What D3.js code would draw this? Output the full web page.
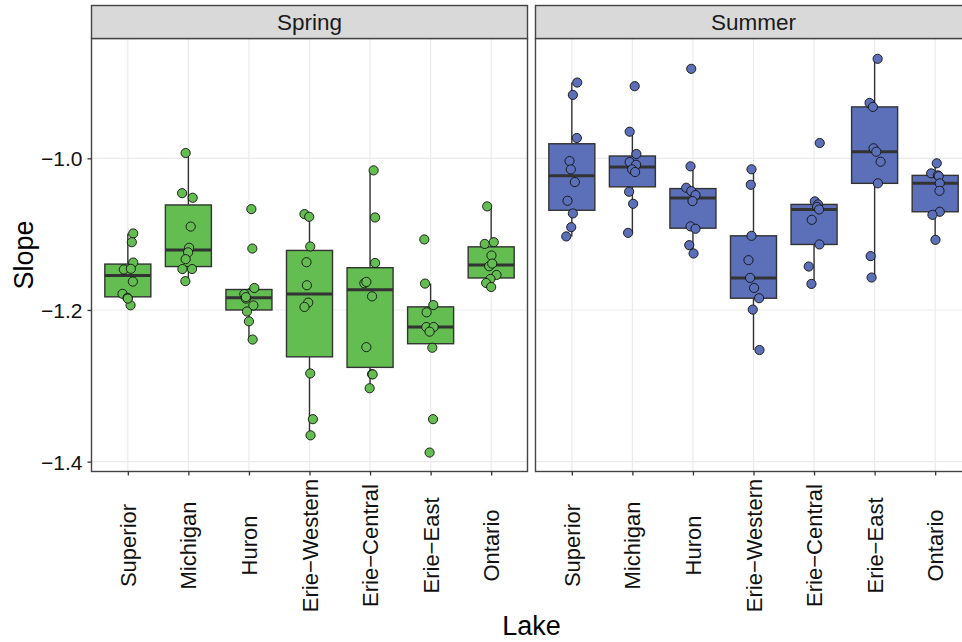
<!DOCTYPE html>
<html>
<head>
<meta charset="utf-8">
<script src="https://cdn.jsdelivr.net/npm/d3@7"></script>
<style>
  body { margin: 0; background: #fff; }
  text { font-family: 'Liberation Sans', Arial, Helvetica, sans-serif; }
</style>
</head>
<body>
<svg id="chart" width="962" height="642"></svg>
<script>
const lakes = ['Superior', 'Michigan', 'Huron', 'Erie\u2212Western', 'Erie\u2212Central', 'Erie\u2212East', 'Ontario']
const seasons = ['Spring', 'Summer']
const yTicks = [-1.4, -1.2, -1.0]

// slope values per lake
const springValues = [
  [-1.0991, -1.1106, -1.1374, -1.1466, -1.1457, -1.1625, -1.1787, -1.1840, -1.1938, -1.185],
  [-0.993, -1.046, -1.052, -1.090, -1.118, -1.124, -1.133, -1.146, -1.146, -1.162],
  [-1.067, -1.119, -1.171, -1.179, -1.185, -1.194, -1.202, -1.215, -1.239, -1.183],
  [-1.0736, -1.0771, -1.1163, -1.137, -1.1674, -1.1903, -1.196, -1.2837, -1.344, -1.3653],
  [-1.0159, -1.078, -1.138, -1.1648, -1.163, -1.182, -1.249, -1.2846, -1.285, -1.3032],
  [-1.107, -1.1652, -1.1935, -1.2031, -1.2225, -1.2225, -1.2286, -1.2498, -1.344, -1.388],
  [-1.0634, -1.1129, -1.1106, -1.1282, -1.1423, -1.1388, -1.1538, -1.1591, -1.1644, -1.1697]
]
const summerValues = [
  [-0.9001, -0.9164, -0.9732, -1.0036, -1.0146, -1.0313, -1.056, -1.0727, -1.0908, -1.103],
  [-0.9049, -0.9649, -0.9943, -1.0049, -1.0085, -1.0146, -1.0181, -1.0441, -1.06, -1.0983],
  [-0.882, -1.0106, -1.0388, -1.0432, -1.0485, -1.0564, -1.0898, -1.0929, -1.1145, -1.1255],
  [-1.0145, -1.0349, -1.1022, -1.1343, -1.1577, -1.1709, -1.1845, -1.1995, -1.2528],
  [-0.9798, -1.0568, -1.0608, -1.064, -1.0674, -1.0811, -1.1136, -1.1427, -1.1656],
  [-0.8688, -0.9269, -0.9322, -0.9868, -0.9913, -1.0045, -1.033, -1.129, -1.1572],
  [-1.0066, -1.0198, -1.0225, -1.0235, -1.033, -1.0428, -1.0705, -1.0745, -1.1075]
]

// horizontal jitter of each point, as a fraction of the category step
const springJitter = [
  [0.089, 0.066, 0.089, -0.066, 0.050, 0.083, -0.088, -0.005, 0.045, 0],
  [-0.045, -0.104, 0.071, 0.038, 0.012, -0.005, -0.045, -0.099, 0.061, -0.050],
  [0.040, 0.056, 0.089, -0.076, -0.050, 0.073, -0.033, 0, 0.061, -0.050],
  [-0.083, -0.005, 0.012, -0.050, -0.043, -0.021, -0.083, 0.012, 0.056, 0.017],
  [0.059, 0.083, 0.083, -0.094, -0.061, 0.033, -0.061, 0.033, 0.043, -0.007],
  [-0.104, -0.092, 0.045, -0.066, -0.071, 0.050, -0.017, 0.028, 0.040, -0.017],
  [-0.066, -0.106, 0.043, 0.005, -0.033, 0.017, 0.088, -0.012, -0.083, 0]
]
const summerJitter = [
  [0.089, 0.017, 0.083, -0.038, -0.017, 0.050, -0.071, 0.017, -0.010, -0.092],
  [0.038, -0.045, 0.066, -0.045, 0.061, -0.005, 0.045, -0.054, 0.012, -0.071],
  [-0.028, -0.040, -0.111, -0.028, 0.043, -0.007, -0.040, 0.043, -0.061, 0.010],
  [-0.033, -0.045, -0.033, -0.083, -0.056, 0.010, 0.092, -0.012, 0.099],
  [0.094, 0.012, 0.066, 0.050, 0.083, -0.038, 0.089, -0.088, -0.043],
  [0.050, -0.083, -0.028, -0.017, 0.028, 0.099, 0.054, -0.066, -0.050],
  [0.026, -0.066, 0.043, 0.059, 0.076, 0.071, 0.076, -0.045, 0.005]
]

const seasonColors = ['#63bd51', '#5b70b8']

const panelTop = 38.5
const panelBottom = 471.5
const panelWidth = 436
const panelLefts = [91.5, 535.5]
const ink = '#333333'

const svg = d3.select('#chart')

const yScale = d3.scaleLinear()
  .domain([-1.413, -0.842])
  .range([panelBottom, panelTop])

/**
 * Computes boxplot statistics the way ggplot does (type 7 quantiles, 1.5 IQR whiskers).
 *
 * @param {number[]} values The values of one group
 * @returns {object} The quartiles and whisker ends
 */
function boxStats (values) {
  const s = values.slice().sort(d3.ascending)
  const q1 = d3.quantile(s, 0.25)
  const med = d3.quantile(s, 0.5)
  const q3 = d3.quantile(s, 0.75)
  const iqr = q3 - q1
  const lo = d3.min(s.filter(v => v >= q1 - 1.5 * iqr))
  const hi = d3.max(s.filter(v => v <= q3 + 1.5 * iqr))
  return { q1, med, q3, lo, hi }
}

/**
 * Draws one facet panel: grid, boxes, jittered points, border, strip and x axis.
 *
 * @param {number} i Index of the season
 * @param {number[][]} values The values per lake
 * @param {number[][]} jitter The jitter per point
 */
function drawPanel (i, values, jitter) {
  const left = panelLefts[i]
  const xScale = d3.scalePoint()
    .domain(lakes)
    .range([left, left + panelWidth])
    .padding(0.6)
  const step = xScale.step()
  const boxW = step * 0.76
  const g = svg.append('g').attr('class', 'panel')

  g.append('rect')
    .attr('x', left).attr('y', panelTop)
    .attr('width', panelWidth).attr('height', panelBottom - panelTop)
    .attr('fill', '#fff')

  g.selectAll('.gy').data(yTicks).join('line')
    .attr('x1', left).attr('x2', left + panelWidth)
    .attr('y1', d => yScale(d)).attr('y2', d => yScale(d))
    .attr('stroke', '#ebebeb').attr('stroke-width', 1.2)

  g.selectAll('.gx').data(lakes).join('line')
    .attr('x1', d => xScale(d)).attr('x2', d => xScale(d))
    .attr('y1', panelTop).attr('y2', panelBottom)
    .attr('stroke', '#ebebeb').attr('stroke-width', 1.2)

  const groups = lakes.map((lake, j) => ({ lake, values: values[j], jitter: jitter[j], stats: boxStats(values[j]) }))

  const boxes = g.selectAll('.box').data(groups).join('g').attr('class', 'box')
  boxes.append('line')
    .attr('x1', d => xScale(d.lake)).attr('x2', d => xScale(d.lake))
    .attr('y1', d => yScale(d.stats.hi)).attr('y2', d => yScale(d.stats.q3))
    .attr('stroke', ink).attr('stroke-width', 1.4)
  boxes.append('line')
    .attr('x1', d => xScale(d.lake)).attr('x2', d => xScale(d.lake))
    .attr('y1', d => yScale(d.stats.q1)).attr('y2', d => yScale(d.stats.lo))
    .attr('stroke', ink).attr('stroke-width', 1.4)
  boxes.append('rect')
    .attr('x', d => xScale(d.lake) - boxW / 2)
    .attr('y', d => yScale(d.stats.q3))
    .attr('width', boxW)
    .attr('height', d => yScale(d.stats.q1) - yScale(d.stats.q3))
    .attr('fill', seasonColors[i])
    .attr('stroke', ink).attr('stroke-width', 1.4)
  boxes.append('line')
    .attr('x1', d => xScale(d.lake) - boxW / 2).attr('x2', d => xScale(d.lake) + boxW / 2)
    .attr('y1', d => yScale(d.stats.med)).attr('y2', d => yScale(d.stats.med))
    .attr('stroke', ink).attr('stroke-width', 3)

  const points = groups.flatMap(d => d.values.map((v, k) => ({ lake: d.lake, v, jx: d.jitter[k] })))
  g.selectAll('.pt').data(points).join('circle')
    .attr('cx', d => xScale(d.lake) + d.jx * step)
    .attr('cy', d => yScale(d.v))
    .attr('r', 4.6)
    .attr('fill', seasonColors[i])
    .attr('stroke', '#111').attr('stroke-width', 0.9)

  g.append('rect')
    .attr('x', left).attr('y', panelTop)
    .attr('width', panelWidth).attr('height', panelBottom - panelTop)
    .attr('fill', 'none').attr('stroke', '#444').attr('stroke-width', 1.4)

  g.append('rect')
    .attr('x', left).attr('y', 5.5)
    .attr('width', panelWidth).attr('height', panelTop - 5.5)
    .attr('fill', '#d9d9d9').attr('stroke', '#444').attr('stroke-width', 1.4)
  g.append('text')
    .text(seasons[i])
    .attr('x', left + panelWidth / 2).attr('y', 22.5)
    .attr('text-anchor', 'middle').attr('dominant-baseline', 'central')
    .attr('font-size', 22.5).attr('fill', '#1a1a1a')

  const xAxis = svg.append('g')
    .attr('class', 'x axis')
    .attr('transform', 'translate(0, ' + panelBottom + ')')
    .call(d3.axisBottom(xScale).tickSize(4).tickSizeOuter(0))
  xAxis.select('.domain').remove()
  xAxis.selectAll('.tick line').attr('stroke', ink).attr('stroke-width', 1.3)
  xAxis.selectAll('.tick text')
    .attr('transform', 'translate(0, 74) rotate(-90)')
    .attr('x', 0).attr('y', 0).attr('dy', null)
    .attr('text-anchor', 'middle').attr('dominant-baseline', 'central')
    .attr('font-size', 22).attr('fill', '#111')
}

drawPanel(0, springValues, springJitter)
drawPanel(1, summerValues, summerJitter)

const yAxis = svg.append('g')
  .attr('class', 'y axis')
  .attr('transform', 'translate(' + panelLefts[0] + ', 0)')
  .call(d3.axisLeft(yScale).tickValues(yTicks).tickFormat(d3.format('.1f')).tickSize(4).tickPadding(5))
yAxis.select('.domain').remove()
yAxis.selectAll('.tick line').attr('stroke', ink).attr('stroke-width', 1.3)
yAxis.selectAll('.tick text')
  .attr('dy', null).attr('dominant-baseline', 'central')
  .attr('font-size', 21).attr('fill', '#111')

svg.append('text')
  .text('Slope')
  .attr('transform', 'translate(32.5, ' + (panelTop + panelBottom) / 2 + ') rotate(-90)')
  .attr('text-anchor', 'middle')
  .attr('font-size', 27).attr('fill', '#000')

svg.append('text')
  .text('Lake')
  .attr('x', (panelLefts[1] + panelWidth + panelLefts[0]) / 2)
  .attr('y', 635)
  .attr('text-anchor', 'middle')
  .attr('font-size', 27).attr('fill', '#000')
</script>
</body>
</html>
